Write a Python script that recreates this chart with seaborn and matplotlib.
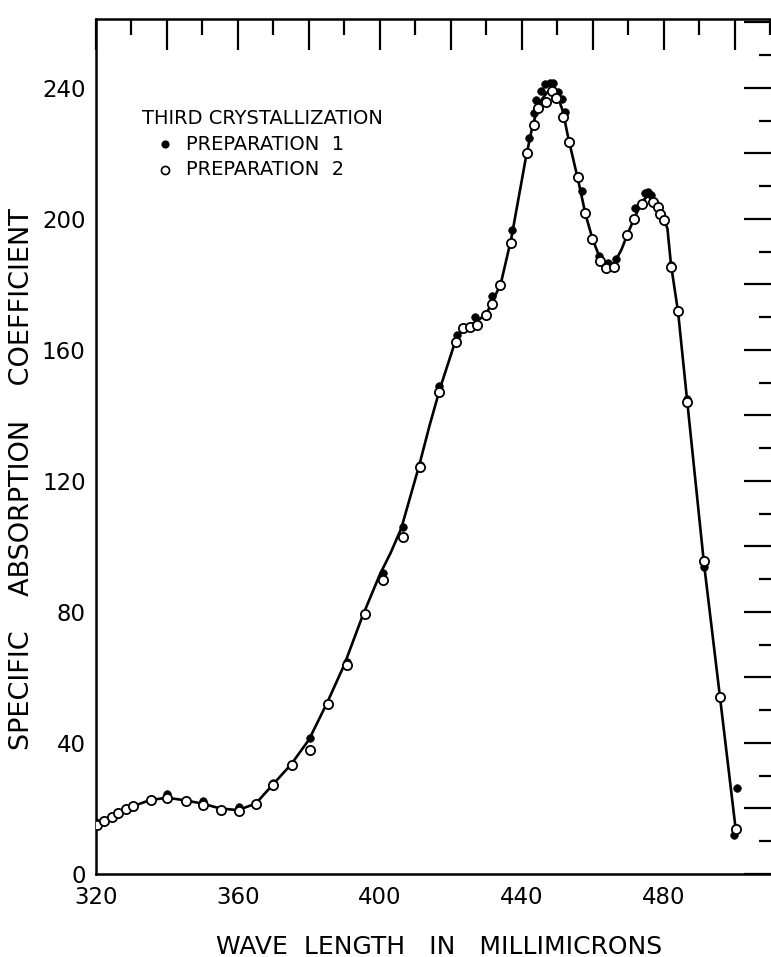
import matplotlib
matplotlib.use("Agg")
import matplotlib.pyplot as plt
import seaborn as sns
from matplotlib.ticker import MultipleLocator, FuncFormatter

# Third crystallization, preparation 1 (filled points)
prep1_nm = [320.0, 340.1, 350.2, 360.2, 369.8, 380.3, 390.6, 400.8, 406.4, 411.3,
            416.6, 421.6, 426.8, 431.6, 437.1, 442.0, 443.4, 444.1, 445.4, 446.5,
            447.9, 448.8, 450.2, 451.4, 452.1, 457.0, 461.7, 464.3, 466.5, 471.8,
            474.6, 475.6, 476.5, 482.0, 486.4, 491.3, 499.8, 500.5]
prep1_val = [16.0, 24.3, 22.3, 20.5, 27.7, 41.6, 64.6, 92.0, 105.9, 125.0,
             149.0, 164.6, 170.0, 176.4, 196.6, 224.6, 232.3, 236.3, 238.9, 241.2,
             241.4, 241.4, 238.6, 236.5, 232.7, 208.6, 188.8, 186.4, 187.7, 203.3,
             207.8, 208.3, 207.3, 186.0, 145.0, 93.6, 11.9, 26.4]

# Third crystallization, preparation 2 (open points)
prep2_nm = [320.2, 322.3, 324.4, 326.3, 328.4, 330.5, 335.5, 340.1, 345.3, 350.2,
            355.3, 360.2, 365.1, 369.8, 375.1, 380.3, 385.4, 390.6, 395.8, 400.9,
            406.4, 411.3, 416.7, 421.4, 423.5, 425.5, 427.4, 429.8, 431.7, 433.8,
            436.8, 441.3, 443.5, 444.6, 446.7, 448.4, 449.6, 451.6, 453.3, 455.7,
            457.7, 459.8, 462.0, 463.8, 465.9, 469.7, 471.7, 473.8, 476.8, 478.4,
            479.0, 480.1, 481.9, 484.0, 486.4, 491.3, 495.8, 500.3]
prep2_val = [15.0, 16.3, 17.3, 18.5, 19.8, 20.8, 22.6, 23.2, 22.3, 21.2,
             19.6, 19.2, 21.5, 27.2, 33.3, 38.0, 52.0, 63.8, 79.5, 89.7,
             102.8, 124.3, 147.0, 162.4, 166.7, 167.1, 167.6, 170.7, 174.0, 179.8,
             192.6, 220.2, 228.7, 233.8, 235.8, 238.9, 236.9, 231.2, 223.6, 212.9,
             201.7, 193.8, 187.0, 184.9, 185.4, 195.1, 199.8, 204.6, 205.0, 203.6,
             201.5, 199.5, 185.3, 172.0, 144.1, 95.7, 54.1, 13.6]

# Drawn absorption curve through both preparations
curve_nm = [320, 322, 326, 330, 335, 340, 345, 350, 355, 360,
            365, 370, 375, 380, 385, 390, 395, 400, 403, 406, 411,
            414, 417, 421.5, 424, 427, 430, 432, 434, 437, 441,
            443, 445, 447, 448.5, 450, 451.5, 453, 456, 458, 460,
            462, 464, 466, 468, 470, 472, 474, 475.5, 477, 479,
            481, 482, 484, 486.5, 491.3, 495.8, 500.3]
curve_val = [15.5, 16.5, 18.5, 20.5, 22.5, 23.3, 22.5, 21.5, 20.0, 19.5,
             21.5, 27.5, 33.5, 41.0, 52.0, 64.0, 78.5, 91.5, 98.0, 105.5, 124.5,
             137.0, 148.5, 163.5, 167.0, 168.5, 171.0, 175.5, 180.0, 194.0, 218.0,
             228.5, 235.5, 238.5, 239.5, 237.5, 233.0, 225.0, 211.0, 201.0, 193.5,
             188.0, 185.5, 186.5, 190.5, 196.0, 201.0, 205.5, 207.0, 206.0, 203.0,
             197.0, 186.0, 171.5, 145.0, 94.7, 54.0, 13.0]

x_tick_labels = [320, 360, 400, 440, 480]
y_tick_labels = [0, 40, 80, 120, 160, 200, 240]

legend_title = "THIRD CRYSTALLIZATION"
legend_labels = ["PREPARATION  1", "PREPARATION  2"]

sns.set_theme(style="white", rc={
    "axes.edgecolor": "black",
    "xtick.color": "black",
    "ytick.color": "black",
    "text.color": "black",
    "axes.labelcolor": "black",
})
plt.rcParams["font.family"] = ["DejaVu Sans"]

W, H = 771, 957
fig = plt.figure(figsize=(W / 100, H / 100), dpi=100)
ax = fig.add_axes([96 / W, 83 / H, 679 / W, 855 / H])

sns.lineplot(x=curve_nm, y=curve_val, ax=ax, color="black", linewidth=1.9,
             sort=False, estimator=None, zorder=2)
sns.scatterplot(x=prep1_nm, y=prep1_val, ax=ax, s=30, color="black",
                edgecolor="black", linewidth=0.5, zorder=3)
sns.scatterplot(x=prep2_nm, y=prep2_val, ax=ax, s=44, color="white",
                edgecolor="black", linewidth=1.3, zorder=4)

ax.set_xlim(320, 511.3)
ax.set_ylim(0, 261)

ax.xaxis.set_major_locator(MultipleLocator(20))
ax.xaxis.set_minor_locator(MultipleLocator(10))
ax.yaxis.set_major_locator(MultipleLocator(20))
ax.yaxis.set_minor_locator(MultipleLocator(10))
ax.xaxis.set_major_formatter(FuncFormatter(
    lambda v, _: f"{v:.0f}" if round(v) in x_tick_labels else ""))
ax.yaxis.set_major_formatter(FuncFormatter(
    lambda v, _: f"{v:.0f}" if round(v) in y_tick_labels else ""))

ax.tick_params(which="both", direction="in", top=True, right=True,
               width=1.6, colors="black")
ax.tick_params(which="major", length=22)
ax.tick_params(which="minor", length=11.5)
ax.tick_params(axis="x", which="major", pad=9, labelsize=16.5)
ax.tick_params(axis="y", which="major", pad=7.5, labelsize=16.5)

for sp in ax.spines.values():
    sp.set_linewidth(1.8)
    sp.set_color("black")

ax.set_xlabel("")
ax.set_ylabel("")

# Axis titles
fig.text(439.5 / W, 1 - 946.5 / H, "WAVE  LENGTH   IN   MILLIMICRONS",
         ha="center", va="center", fontsize=18)
fig.text(22 / W, 1 - 479.5 / H, "SPECIFIC    ABSORPTION    COEFFICIENT",
         ha="center", va="center", rotation=90, fontsize=19.5)

# Legend block
def ax_frac(px, py):
    return (px - 96) / 679, (874 - py) / 855

tx, ty = ax_frac(142, 119)
ax.text(tx, ty, legend_title, transform=ax.transAxes, ha="left", va="center",
        fontsize=14)
for i, (lab, face, size) in enumerate(zip(legend_labels, ["black", "white"], [22, 34])):
    py = 144 + 25.5 * i
    mx, my = ax_frac(165, py)
    ax.scatter([mx], [my], transform=ax.transAxes, s=size, c=face,
               edgecolors="black", linewidths=1.2, zorder=5, clip_on=False)
    lx, ly = ax_frac(186, py)
    ax.text(lx, ly, lab, transform=ax.transAxes, ha="left", va="center",
            fontsize=14)

fig.savefig("out.png", dpi=100, facecolor="white")
